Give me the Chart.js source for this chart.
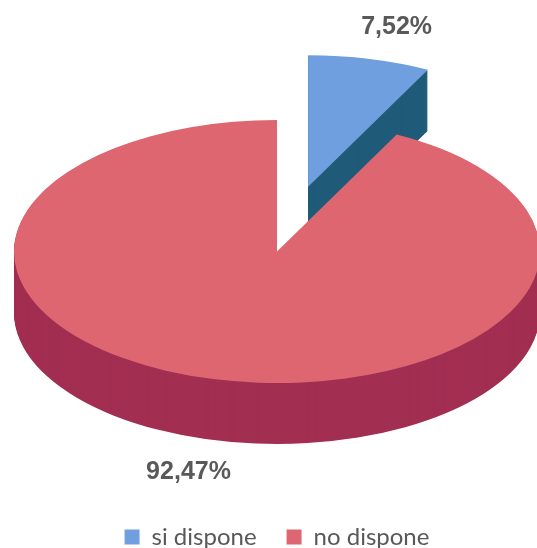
<!DOCTYPE html>
<html>
<head>
<meta charset="utf-8">
<script src="https://cdn.jsdelivr.net/npm/chart.js@4.4.0/dist/chart.umd.min.js"></script>
<style>
    html, body { margin: 0; padding: 0; background: #fff; }
    #wrap { width: 537px; height: 548px; }
</style>
</head>
<body>
<div id="wrap"><canvas id="pieChart"></canvas></div>
<script>
var labels = ['si dispone', 'no dispone'];
var values = [7.52, 92.47];
var topColors = ['#6f9fdf', '#dd6670'];
var sideColors = ['#1f5b78', '#a22f52'];

var TILT = 0.5;       // vertical squash of the disc
var DEPTH = 61;       // wall height
var EXPLODE = 133;    // pull-out of the first slice
var RADIUS = 263;

function squash(ctx, cy, d) {
    ctx.translate(0, cy + d);
    ctx.scale(1, TILT);
    ctx.translate(0, -cy);
}

var pie3d = {
    id: 'pie3d',
    beforeDatasetsDraw: function (chart) {
        var ctx = chart.ctx;
        var meta = chart.getDatasetMeta(0);
        meta.data.forEach(function (arc, i) {
            var p = arc.getProps(['x', 'y', 'startAngle', 'endAngle', 'outerRadius'], true);
            var mid = (p.startAngle + p.endAngle) / 2;
            var ex = i == 0 ? EXPLODE : 0;
            var dx = Math.cos(mid) * ex, dy = Math.sin(mid) * ex;
            ctx.save();
            ctx.fillStyle = sideColors[i];
            for (var d = DEPTH; d > 0; d--) {
                ctx.save();
                squash(ctx, p.y, d);
                ctx.translate(dx, dy);
                ctx.beginPath();
                ctx.moveTo(p.x, p.y);
                ctx.arc(p.x, p.y, p.outerRadius, p.startAngle, p.endAngle);
                ctx.closePath();
                ctx.fill();
                ctx.restore();
            }
            squash(ctx, p.y, 0);
            ctx.translate(dx, dy);
            arc.draw(ctx);
            ctx.restore();
        });
        return false;
    },
    afterDraw: function (chart) {
        var ctx = chart.ctx;
        var meta = chart.getDatasetMeta(0);
        ctx.save();
        ctx.font = 'bold 25px "Liberation Sans", Arial, sans-serif';
        ctx.fillStyle = '#595959';
        ctx.textAlign = 'center';
        ctx.textBaseline = 'middle';
        meta.data.forEach(function (arc, i) {
            var p = arc.getProps(['x', 'y', 'startAngle', 'endAngle', 'outerRadius'], true);
            var mid = (p.startAngle + p.endAngle) / 2;
            var ex = i == 0 ? EXPLODE : 0;
            var ox = p.x + Math.cos(mid) * (p.outerRadius + ex);
            var oy = p.y + Math.sin(mid) * (p.outerRadius + ex) * TILT + (Math.sin(mid) > 0 ? DEPTH : 0);
            var txt = values[i].toFixed(2).replace('.', ',') + '%';
            ctx.fillText(txt, ox + Math.cos(mid) * 115, oy + Math.sin(mid) * 33);
        });
        ctx.restore();
    }
};

var PieChart = new Chart(document.getElementById('pieChart'), {
    type: 'pie',
    data: {
        labels: labels,
        datasets: [{
            data: values,
            backgroundColor: topColors,
            borderWidth: 0,
            clip: false
        }]
    },
    options: {
        responsive: true,
        maintainAspectRatio: false,
        animation: false,
        radius: RADIUS,
        layout: { padding: { left: 17, top: 8, bottom: -11 } },
        plugins: {
            tooltip: { enabled: false },
            legend: {
                position: 'bottom',
                labels: {
                    boxWidth: 15,
                    boxHeight: 15,
                    padding: 30,
                    color: '#595959',
                    font: { family: 'Lato', size: 24 }
                }
            }
        }
    },
    plugins: [pie3d]
});
</script>
</body>
</html>
